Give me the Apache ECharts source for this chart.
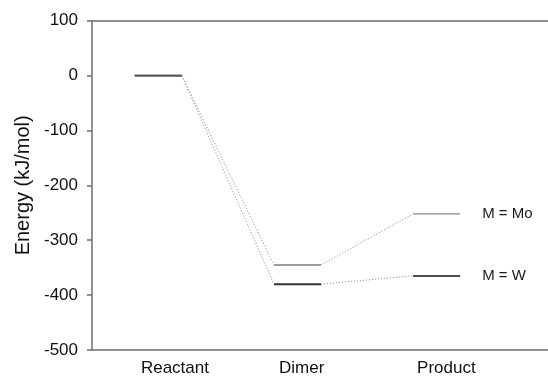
<!DOCTYPE html>
<html>
<head>
<meta charset="utf-8">
<script src="https://cdn.jsdelivr.net/npm/echarts@6/dist/echarts.min.js"></script>
<style>
html,body{margin:0;padding:0;background:#fff;}
#c{width:548px;height:377px;}
</style>
</head>
<body>
<div id="c"></div>
<script>
// ---- data ----
const stages = ['Reactant', 'Dimer', 'Product'];
const metals = ['Mo', 'W'];
const energyMo = [0, -345, -252];
const energyW = [0, -380, -365];
const stageLabelTicks = [1.12, 2.03, 3.07];
const yMin = -500, yMax = 100, yStep = 100;

// ---- build ----
const HALF = 0.169;
const energies = { Mo: energyMo, W: energyW };
const levelStyle = {
  Mo: [{ c: '#555', w: 1.6 }, { c: '#7a7a7a', w: 1.5 }, { c: '#6a6a6a', w: 1 }],
  W:  [{ c: '#555', w: 1.6 }, { c: '#333', w: 2 },   { c: '#111', w: 1.5 }]
};
const series = [];
metals.forEach(m => {
  const e = energies[m];
  e.forEach((v, i) => {
    const s = {
      type: 'line', xAxisIndex: 0, yAxisIndex: 0,
      symbol: 'none', animation: false, silent: true,
      data: [[i + 1 - HALF, v], [i + 1 + HALF, v]],
      lineStyle: { color: levelStyle[m][i].c, width: levelStyle[m][i].w },
      z: 3
    };
    if (i === e.length - 1) {
      s.endLabel = {
        show: true, formatter: 'M = ' + m, distance: 22,
        fontSize: 15, color: '#1a1a1a', fontFamily: 'Liberation Sans, Arial, sans-serif'
      };
    }
    series.push(s);
    if (i < e.length - 1) {
      series.push({
        type: 'line', xAxisIndex: 0, yAxisIndex: 0,
        symbol: 'none', animation: false, silent: true,
        data: [[i + 1 + HALF, v], [i + 2 - HALF, e[i + 1]]],
        lineStyle: { color: '#9a9a9a', width: 1, type: [1.2, 1.8] },
        z: 2
      });
    }
  });
});

const FONT = 'Liberation Sans, Arial, sans-serif';
const chart = echarts.init(document.getElementById('c'), null, { renderer: 'canvas' });
chart.setOption({
  animation: false,
  backgroundColor: '#fff',
  grid: { left: 92, right: 0, top: 20.7, bottom: 24, containLabel: false },
  xAxis: [{
    type: 'value', position: 'bottom', min: 0.524, max: 3.8,
    splitLine: { show: false },
    axisLine: { show: true, onZero: false, lineStyle: { color: '#6e6e6e', width: 1.5 } },
    axisTick: { show: false },
    axisLabel: {
      customValues: stageLabelTicks,
      formatter: (v) => {
        let k = 0, best = 1e9;
        stageLabelTicks.forEach((t, j) => { if (Math.abs(t - v) < best) { best = Math.abs(t - v); k = j; } });
        return stages[k];
      },
      margin: 10, fontSize: 17, color: '#111', fontFamily: FONT
    }
  }, {
    type: 'value', position: 'top', min: 0.524, max: 3.8,
    splitLine: { show: false },
    axisLine: { show: true, onZero: false, lineStyle: { color: '#6e6e6e', width: 1.5 } },
    axisTick: { show: false }, axisLabel: { show: false }
  }],
  yAxis: {
    type: 'value', min: yMin, max: yMax, interval: yStep,
    name: 'Energy (kJ/mol)', nameLocation: 'middle', nameGap: 58, nameRotate: 90,
    nameTextStyle: { fontSize: 20, color: '#111', fontFamily: FONT },
    splitLine: { show: false },
    axisLine: { show: true, onZero: false, lineStyle: { color: '#6e6e6e', width: 1.5 } },
    axisTick: { show: true, inside: false, length: 5, lineStyle: { color: '#6e6e6e', width: 1.5 } },
    axisLabel: { margin: 14, fontSize: 17, color: '#111', fontFamily: FONT }
  },
  series: series
});
</script>
</body>
</html>
